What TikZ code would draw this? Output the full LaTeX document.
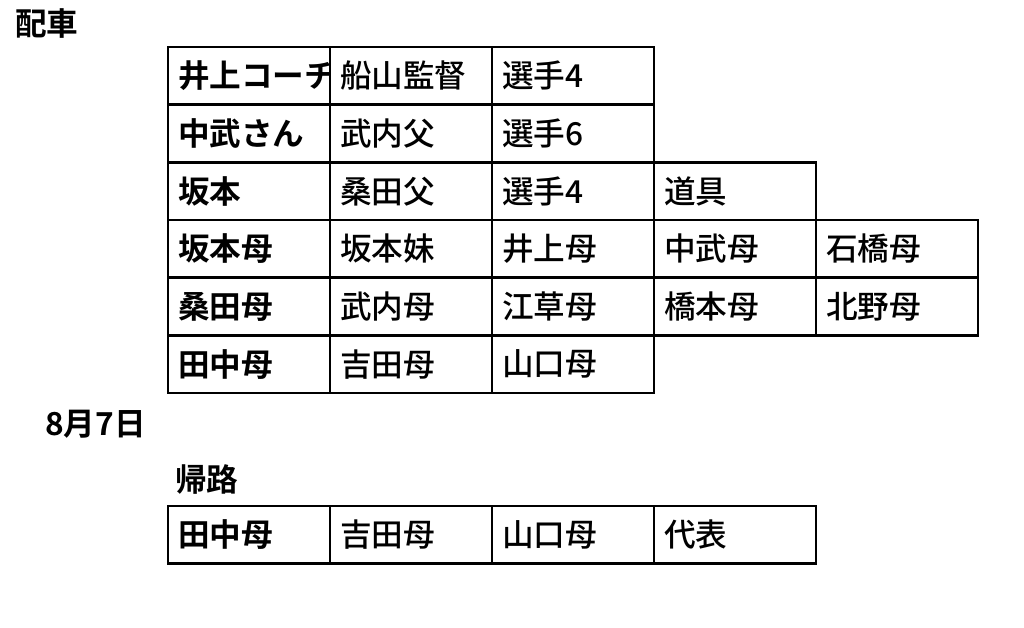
\documentclass[tikz,border=0pt]{standalone}
\usepackage{fontspec}
\setmainfont{Noto Sans CJK JP Medium}[BoldFont={Noto Sans CJK JP Bold}]
\usetikzlibrary{positioning}
\tikzset{
  cell/.style={draw, line width=1.8pt, anchor=north west, outer sep=0pt, minimum width=4.05cm, minimum height=1.44cm,
    text width=3.55cm, inner xsep=0.25cm, inner ysep=0pt, align=left, font=\fontsize{22.5pt}{27pt}\selectfont},
  headcell/.style={cell, font=\fontsize{22.5pt}{27pt}\selectfont\bfseries},
  title/.style={anchor=west, inner sep=0pt, font=\fontsize{22.5pt}{27pt}\selectfont\bfseries}
}
\begin{document}
\begin{tikzpicture}[x=0.025cm,y=-0.025cm]
			\useasboundingbox (0,0) rectangle (1024,628);
			\node[title] (haisha) at (15,24) {配車};
			% row 1
			\begin{scope}
			\clip (168,47) rectangle (330,105);
			\node[headcell, draw=none] (a1) at (168,47) {\mbox{井上コーチ}};
			\end{scope}
			\draw[line width=1.8pt] (a1.north west) rectangle (a1.south east);
			\node[cell] (a2) at (330,47) {船山監督};
			\node[cell] (a3) at (492,47) {選手4};
			% row 2
			\node[headcell] (b1) at (168,104.7) {中武さん};
			\node[cell] (b2) at (330,104.7) {武内父};
			\node[cell] (b3) at (492,104.7) {選手6};
			% row 3
			\node[headcell] (c1) at (168,162.4) {坂本};
			\node[cell] (c2) at (330,162.4) {桑田父};
			\node[cell] (c3) at (492,162.4) {選手4};
			\node[cell] (c4) at (654,162.4) {道具};
			% row 4
			\node[headcell] (d1) at (168,220.1) {坂本母};
			\node[cell] (d2) at (330,220.1) {坂本妹};
			\node[cell] (d3) at (492,220.1) {井上母};
			\node[cell] (d4) at (654,220.1) {中武母};
			\node[cell] (d5) at (816,220.1) {石橋母};
			% row 5
			\node[headcell] (e1) at (168,277.8) {桑田母};
			\node[cell] (e2) at (330,277.8) {武内母};
			\node[cell] (e3) at (492,277.8) {江草母};
			\node[cell] (e4) at (654,277.8) {橋本母};
			\node[cell] (e5) at (816,277.8) {北野母};
			% row 6
			\node[headcell] (f1) at (168,335.5) {田中母};
			\node[cell] (f2) at (330,335.5) {吉田母};
			\node[cell] (f3) at (492,335.5) {山口母};
			% 8/7
			\node[title] (date) at (45,424) {8月7日};
			\node[title] (kiro) at (175,479) {帰路};
			\node[headcell] (g1) at (168,506) {田中母};
			\node[cell] (g2) at (330,506) {吉田母};
			\node[cell] (g3) at (492,506) {山口母};
			\node[cell] (g4) at (654,506) {代表};
\end{tikzpicture}
\end{document}
